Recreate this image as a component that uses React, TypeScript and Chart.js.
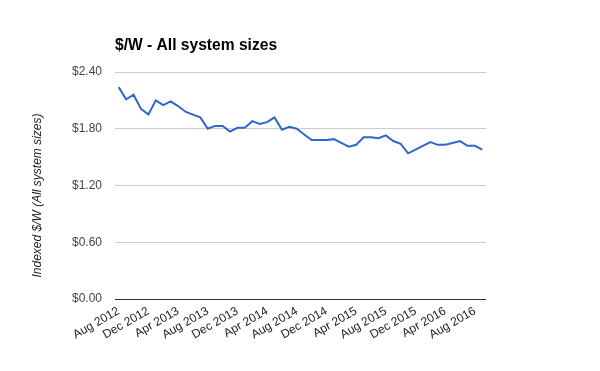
import React, { useEffect, useRef } from "react";
import { Chart, registerables } from "chart.js";

Chart.register(...registerables);

const chartTitle = "$/W - All system sizes";
const yAxisTitle = "Indexed $/W (All system sizes)";

const months = [
  "Aug 2012", "Sep 2012", "Oct 2012", "Nov 2012", "Dec 2012", "Jan 2013", "Feb 2013", "Mar 2013",
  "Apr 2013", "May 2013", "Jun 2013", "Jul 2013", "Aug 2013", "Sep 2013", "Oct 2013", "Nov 2013",
  "Dec 2013", "Jan 2014", "Feb 2014", "Mar 2014", "Apr 2014", "May 2014", "Jun 2014", "Jul 2014",
  "Aug 2014", "Sep 2014", "Oct 2014", "Nov 2014", "Dec 2014", "Jan 2015", "Feb 2015", "Mar 2015",
  "Apr 2015", "May 2015", "Jun 2015", "Jul 2015", "Aug 2015", "Sep 2015", "Oct 2015", "Nov 2015",
  "Dec 2015", "Jan 2016", "Feb 2016", "Mar 2016", "Apr 2016", "May 2016", "Jun 2016", "Jul 2016",
  "Aug 2016", "Sep 2016",
];

const pricePerWatt = [
  2.24, 2.11, 2.16, 2.01, 1.95, 2.10, 2.05, 2.09, 2.04, 1.98,
  1.95, 1.92, 1.80, 1.83, 1.83, 1.77, 1.81, 1.81, 1.88, 1.85,
  1.87, 1.92, 1.79, 1.82, 1.80, 1.74, 1.68, 1.68, 1.68, 1.69,
  1.65, 1.61, 1.63, 1.71, 1.71, 1.70, 1.73, 1.67, 1.64, 1.54,
  1.58, 1.62, 1.66, 1.63, 1.63, 1.65, 1.67, 1.62, 1.62, 1.58,
];

const yMin = 0;
const yMax = 2.4;
const yStep = 0.6;
const labelEvery = 4;

const FONT = "'Liberation Sans', Arial, sans-serif";

const textPlugin = {
  id: "textPlugin",
  afterDraw(chart: any) {
    const { ctx, chartArea } = chart;
    ctx.save();
    ctx.fillStyle = "#000000";
    ctx.font = `bold 15.6px ${FONT}`;
    ctx.textAlign = "left";
    ctx.textBaseline = "alphabetic";
    ctx.fillText(chartTitle, chartArea.left, 50);

    ctx.fillStyle = "#222222";
    ctx.font = `italic 12px ${FONT}`;
    ctx.translate(37.5, (chartArea.top + chartArea.bottom) / 2 + 10);
    ctx.rotate(-Math.PI / 2);
    ctx.textAlign = "center";
    ctx.textBaseline = "middle";
    ctx.fillText(yAxisTitle, 0, 0);
    ctx.restore();
  },
};

export default function App() {
  const ref = useRef<HTMLCanvasElement | null>(null);

  useEffect(() => {
    if (!ref.current) return;
    const chart = new Chart(ref.current, {
      type: "line",
      data: {
        labels: months,
        datasets: [
          {
            data: pricePerWatt,
            borderColor: "#3366cc",
            backgroundColor: "#3366cc",
            borderWidth: 2,
            pointRadius: 0,
            tension: 0,
            fill: false,
          },
        ],
      },
      options: {
        responsive: false,
        animation: false,
        layout: { padding: { top: 72, right: 114, bottom: 0, left: 0 } },
        plugins: {
          legend: { display: false },
          title: { display: false },
          tooltip: { enabled: false },
        },
        scales: {
          x: {
            offset: true,
            grid: { display: false, drawTicks: false },
            border: { display: false },
            afterFit: (axis: any) => {
              axis.height = 72;
            },
            ticks: {
              autoSkip: false,
              maxRotation: 30,
              minRotation: 30,
              padding: 5,
              color: "#222222",
              font: { family: FONT, size: 12 },
              callback: (_v: any, i: number) => (i % labelEvery === 0 ? months[i] : ""),
            },
          },
          y: {
            min: yMin,
            max: yMax,
            border: { display: false },
            grid: {
              drawTicks: false,
              color: (c: any) => (c.tick && c.tick.value === 0 ? "#333333" : "#cccccc"),
              lineWidth: 1,
            },
            afterFit: (axis: any) => {
              axis.width = 115;
            },
            ticks: {
              stepSize: yStep,
              padding: 13,
              color: "#444444",
              font: { family: FONT, size: 12 },
              callback: (v: any) => "$" + Number(v).toFixed(2),
            },
          },
        },
      },
      plugins: [textPlugin],
    });
    return () => chart.destroy();
  }, []);

  return (
    <div style={{ position: "absolute", left: 0, top: 0, width: 600, height: 371, background: "#fff" }}>
      <canvas ref={ref} width={600} height={371} />
    </div>
  );
}
